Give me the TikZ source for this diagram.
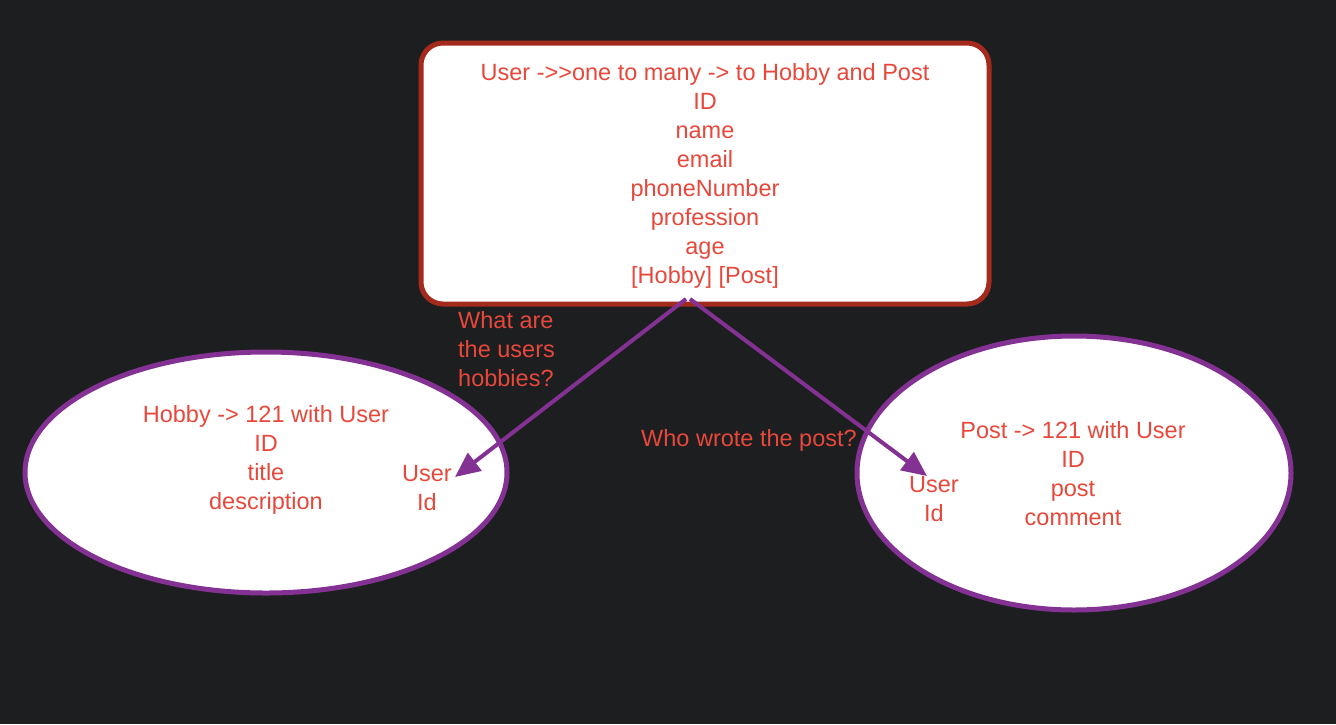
\documentclass[tikz,border=0pt]{standalone}
\usepackage{fontspec}
\setmainfont{Liberation Sans}[Ligatures=TeXOff]
\usetikzlibrary{shapes.geometric,arrows.meta}
\definecolor{bgc}{HTML}{1D1E20}
\definecolor{txt}{HTML}{E8483B}
\definecolor{boxb}{HTML}{A52A1E}
\definecolor{purp}{HTML}{833192}
\tikzset{
  lbl/.style={text=txt,font=\fontsize{23.5}{29}\selectfont,inner sep=0pt},
  entbox/.style={draw=boxb,line width=5pt,fill=white,rounded corners=22pt,minimum width=568pt,minimum height=261pt,inner sep=0pt},
  ent/.style={ellipse,draw=purp,line width=5pt,fill=white,inner sep=0pt},
  rel/.style={draw=purp,line width=4pt,-{Triangle[length=25pt,width=22pt]}}
}
\begin{document}
\begin{tikzpicture}[x=1pt,y=-1pt]
\fill[bgc] (0,0) rectangle (1336,724);
\useasboundingbox (0,0) rectangle (1336,724);
% user box
\node[entbox] (user) at (705,173.5) {};
\node[lbl,align=center] (usertxt) at (705,176) {User ->>one to many -> to Hobby and Post\\ID\\name\\email\\phoneNumber\\profession\\age\\[0pt][Hobby] [Post]};
% hobby
\node[ent,minimum width=482pt,minimum height=241pt] (hobby) at (266,472.5) {};
\node[lbl,align=center] (hobbytxt) at (266,460) {Hobby -> 121 with User\\ID\\title\\description};
\node[lbl,align=center] (hobbyuid) at (427,488) {User\\Id};
% post
\node[ent,minimum width=434pt,minimum height=274pt] (post) at (1074,473) {};
\node[lbl,align=center] (posttxt) at (1073,474) {Post -> 121 with User\\ID\\post\\comment};
\node[lbl,align=center] (postuid) at (934,499) {User\\Id};
% labels
\node[lbl,align=left,anchor=north west] (q1) at (458,311) {What are\\the users\\hobbies?};
\node[lbl,anchor=west] (q2) at (641,440) {Who wrote the post?};
% connectors
\coordinate (s1) at (686,299);
\coordinate (s2) at (690,299);
\coordinate (t1) at (455,477);
\coordinate (t2) at (927,476);
\draw[rel] (s1) -- (t1);
\draw[rel] (s2) -- (t2);
\end{tikzpicture}
\end{document}
